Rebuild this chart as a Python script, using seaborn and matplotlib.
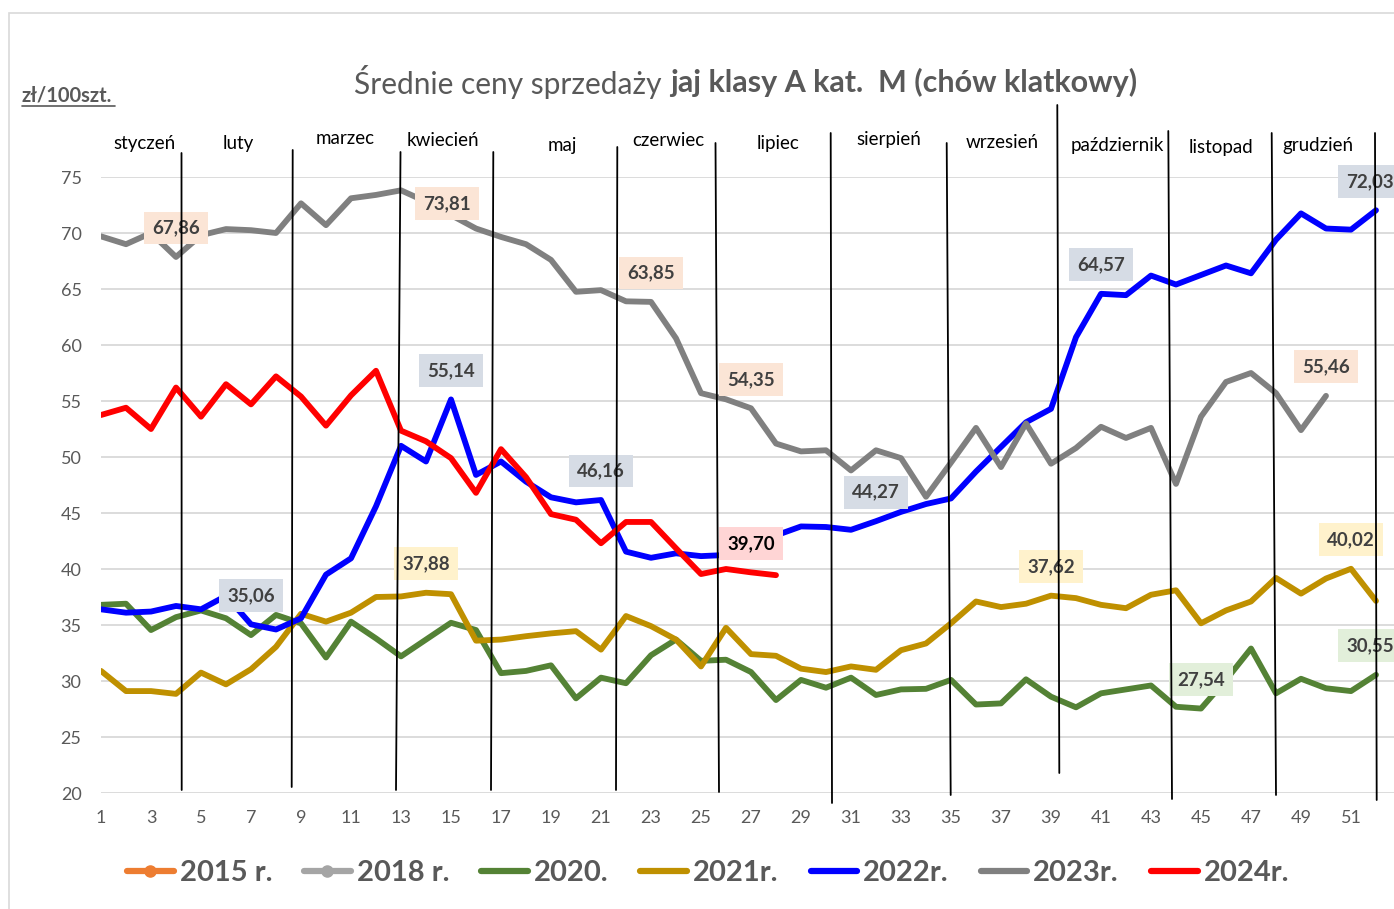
import matplotlib
matplotlib.use("Agg")
import matplotlib.pyplot as plt
import numpy as np
import pandas as pd
import seaborn as sns
from matplotlib.lines import Line2D
from matplotlib.patches import Rectangle

# ---------------- data ----------------
weeks = list(range(1, 53))

y2015 = []
y2018 = []
y2020 = [36.8, 36.9, 34.55, 35.7, 36.3, 35.6, 34.1, 35.9, 35.15, 32.1,
         35.3, 33.8, 32.2, 33.7, 35.2, 34.55, 30.7, 30.9, 31.4, 28.45,
         30.3, 29.8, 32.3, 33.7, 31.8, 31.9, 30.8, 28.3, 30.1, 29.4,
         30.3, 28.75, 29.25, 29.3, 30.1, 27.9, 28.0, 30.15, 28.6, 27.65,
         28.9, 29.25, 29.6, 27.7, 27.54, 30.1, 32.9, 28.9, 30.2, 29.35,
         29.1, 30.55]
y2021 = [30.9, 29.1, 29.1, 28.85, 30.75, 29.7, 31.05, 33.05, 36.0, 35.3,
         36.1, 37.5, 37.55, 37.88, 37.75, 33.6, 33.7, 34.0, 34.25, 34.45,
         32.8, 35.8, 34.9, 33.7, 31.3, 34.75, 32.4, 32.25, 31.1, 30.8,
         31.3, 31.0, 32.75, 33.35, 35.15, 37.1, 36.6, 36.9, 37.62, 37.4,
         36.8, 36.5, 37.7, 38.1, 35.15, 36.3, 37.1, 39.2, 37.8, 39.15,
         40.02, 37.15]
y2022 = [36.4, 36.1, 36.2, 36.7, 36.4, 37.6, 35.06, 34.6, 35.6, 39.5,
         40.95, 45.6, 51.0, 49.6, 55.14, 48.4, 49.6, 47.8, 46.4, 45.95,
         46.16, 41.55, 41.0, 41.4, 41.15, 41.25, 42.2, 43.0, 43.8, 43.75,
         43.5, 44.27, 45.1, 45.8, 46.3, 48.7, 50.9, 53.1, 54.3, 60.7,
         64.57, 64.45, 66.2, 65.4, 66.25, 67.1, 66.4, 69.4, 71.75, 70.4,
         70.3, 72.03]
y2023 = [69.7, 69.0, 70.0, 67.86, 69.8, 70.35, 70.25, 70.0, 72.65, 70.7,
         73.1, 73.4, 73.81, 72.8, 71.6, 70.4, 69.65, 69.0, 67.6, 64.75,
         64.9, 63.9, 63.85, 60.6, 55.7, 55.15, 54.35, 51.2, 50.5, 50.6,
         48.8, 50.6, 49.9, 46.45, 49.5, 52.6, 49.1, 53.0, 49.4, 50.8,
         52.7, 51.7, 52.6, 47.6, 53.6, 56.7, 57.5, 55.7, 52.4, 55.46]
y2024 = [53.75, 54.4, 52.5, 56.2, 53.6, 56.5, 54.7, 57.2, 55.4, 52.8,
         55.5, 57.7, 52.35, 51.4, 49.9, 46.8, 50.7, 48.2, 44.9, 44.4,
         42.3, 44.2, 44.2, 41.85, 39.55, 40.0, 39.70, 39.45]

series_names = ["2015 r.", "2018 r.", "2020.", "2021r.", "2022r.", "2023r.", "2024r."]
series_vals = [y2015, y2018, y2020, y2021, y2022, y2023, y2024]
series_colors = ["#ED7D31", "#A5A5A5", "#548235", "#BF9000", "#0000FF", "#808080", "#FF0000"]

months = ["styczeń", "luty", "marzec", "kwiecień", "maj", "czerwiec", "lipiec",
          "sierpień", "wrzesień", "październik", "listopad", "grudzień"]

# data labels: (series, week, text)
point_labels = [
    ("2023r.", 4, "67,86"), ("2023r.", 13, "73,81"), ("2023r.", 23, "63,85"),
    ("2023r.", 27, "54,35"), ("2023r.", 50, "55,46"),
    ("2022r.", 7, "35,06"), ("2022r.", 15, "55,14"), ("2022r.", 21, "46,16"),
    ("2022r.", 32, "44,27"), ("2022r.", 41, "64,57"), ("2022r.", 52, "72,03"),
    ("2021r.", 14, "37,88"), ("2021r.", 39, "37,62"), ("2021r.", 51, "40,02"),
    ("2020.", 45, "27,54"), ("2020.", 52, "30,55"),
    ("2024r.", 27, "39,70"),
]

# ---------------- layout ----------------
W, H = 1394, 909
def fx(px): return px / W
def fy(py): return 1 - py / H

GRAY_TXT = "#595959"
label_face = {"2023r.": "#FBE5D6", "2022r.": "#D6DCE5", "2021r.": "#FFF2CC",
              "2020.": "#E2EFDA", "2024r.": "#FFD5D5"}
label_offset = {("2023r.", 13): (46, -13), ("2022r.", 52): (-6, 29), ("2020.", 52): (-6, 29)}

sns.set_style("white")
plt.rcParams['font.family'] = ['Lato', 'DejaVu Sans']

fig = plt.figure(figsize=(W / 100, H / 100), dpi=100)
fig.patch.set_facecolor("white")

# chart-area border
fig.add_artist(Rectangle((fx(9), fy(1000)), fx(1500), fy(13) - fy(1000),
                         transform=fig.transFigure, fill=False, ec="#D9D9D9", lw=1.2))

ax = fig.add_axes([fx(101), fy(793), fx(1394) - fx(101), fy(177) - fy(793)])

rows = []
for name, vals in zip(series_names, series_vals):
    for w, v in zip(weeks, vals):
        rows.append({"week": w, "price": v, "series": name})
df = pd.DataFrame(rows)
plot_names = [n for n, v in zip(series_names, series_vals) if len(v)]
pal = {n: c for n, c in zip(series_names, series_colors)}

sns.lineplot(data=df, x="week", y="price", hue="series", hue_order=plot_names,
             palette=pal, linewidth=4.2, legend=False, estimator=None, sort=False,
             ax=ax, solid_capstyle="round", solid_joinstyle="round")

ax.set_xlim(1, 1 + (1394 - 101) / 25)
ax.set_ylim(20, 75)
ax.set_yticks(range(20, 80, 5))
ax.set_xticks(range(1, 53, 2))
ax.yaxis.grid(True, color="#D9D9D9", lw=1.3)
ax.xaxis.grid(False)
ax.set_axisbelow(True)
for s in ax.spines.values():
    s.set_visible(False)
ax.tick_params(axis="both", length=0, labelcolor=GRAY_TXT, labelsize=13)
ax.tick_params(axis="y", pad=14)
ax.tick_params(axis="x", pad=12)
ax.set_xlabel("")
ax.set_ylabel("")

# data labels
lookup = dict(zip(series_names, series_vals))
for name, wk, txt in point_labels:
    v = lookup[name][wk - 1]
    dx, dy = label_offset.get((name, wk), (0, 29))
    ax.annotate(txt, xy=(wk, v), xytext=(dx, dy), textcoords="offset pixels",
                ha="center", va="center", fontsize=13.5, fontweight="bold",
                color="black" if name == "2024r." else "#404040",
                bbox=dict(boxstyle="square,pad=0.42", fc=label_face[name], ec="none"),
                annotation_clip=False, zorder=5)

# month separator lines (top_x, top_y, bottom_x, bottom_y) in pixels
sep_lines = [(181.5, 153, 181.7, 790), (292.7, 150, 291.7, 787), (400.5, 152, 396, 790),
             (493.3, 152, 491, 790), (617.3, 147, 616, 790), (715.5, 143, 719, 792),
             (830.7, 133, 832, 803), (946.7, 143, 950.7, 795), (1057.3, 105, 1059.3, 773),
             (1168.3, 131, 1172, 799), (1271.7, 133, 1276, 795), (1375, 133, 1376.7, 800)]
for x0, y0, x1, y1 in sep_lines:
    fig.add_artist(Line2D([fx(x0), fx(x1)], [fy(y0), fy(y1)], transform=fig.transFigure,
                          color="black", lw=1.3, zorder=6))

month_pos = [(144, 143), (238, 143), (345, 139), (443, 140), (562, 145), (668, 141),
             (778, 143), (889, 140), (1002, 143), (1117, 145), (1221, 148), (1318, 145)]
for m, (px, py) in zip(months, month_pos):
    fig.text(fx(px), fy(py), m, ha="center", va="center", fontsize=13.5, color="black")

# title
fig.text(fx(662), fy(82), "Średnie ceny sprzedaży", ha="right", va="center",
         fontsize=21.5, color=GRAY_TXT)
fig.text(fx(670), fy(82), "jaj klasy A kat.  M (chów klatkowy)", ha="left", va="center",
         fontsize=22, color=GRAY_TXT, fontweight="bold")

# unit label
fig.text(fx(22), fy(95), "zł/100szt.", ha="left", va="center", fontsize=14.5,
         fontweight="bold", color=GRAY_TXT)
fig.add_artist(Line2D([fx(22), fx(115)], [fy(106), fy(106)], transform=fig.transFigure,
                      color=GRAY_TXT, lw=1.2))

# legend
handles = []
for name, vals, col in zip(series_names, series_vals, series_colors):
    mk = "o" if len(vals) == 0 else None
    handles.append(Line2D([], [], color=col, lw=4.5, marker=mk, markersize=8,
                          solid_capstyle="round"))
fig.legend(handles, series_names, loc="center", bbox_to_anchor=(fx(708), fy(873)),
           ncol=7, frameon=False, prop=dict(weight="bold", size=21),
           labelcolor=GRAY_TXT, handlelength=1.6, handletextpad=0.2, columnspacing=1.1)

fig.savefig("out.png", dpi=100)
